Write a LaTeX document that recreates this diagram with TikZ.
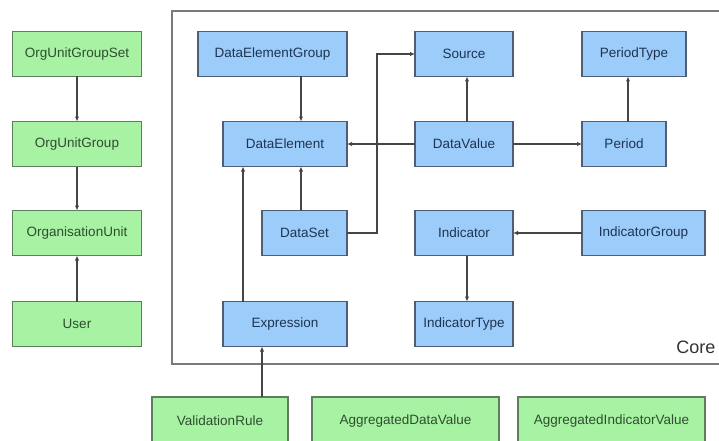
\documentclass[tikz,border=0pt]{standalone}
\usepackage{fontspec}
\setmainfont{Liberation Sans}
\usetikzlibrary{arrows.meta, positioning, calc}
\definecolor{grnfill}{HTML}{A8F2A4}
\definecolor{grnline}{HTML}{5E7E5E}
\definecolor{grntext}{HTML}{2E4E2E}
\definecolor{blufill}{HTML}{9CCCFA}
\definecolor{bluline}{HTML}{4E5E74}
\definecolor{blutext}{HTML}{1E3452}
\definecolor{arrline}{HTML}{454545}
\definecolor{coreline}{HTML}{7A7A7A}

\begin{document}
\begin{tikzpicture}[x=1pt, y=-1pt, font=\fontsize{13.5}{15}\selectfont, >={Latex[length=5pt,width=4.5pt]},
    box/.style={draw, line width=1.4pt, minimum height=45pt, inner sep=0pt, outer sep=0pt},
    grn/.style={box, fill=grnfill, draw=grnline, text=grntext},
    blu/.style={box, fill=blufill, draw=bluline, text=blutext},
    arr/.style={->, line width=1.6pt, draw=arrline}]
    \useasboundingbox (0,0) rectangle (719,441);
    \clip (0,0) rectangle (719,441);
    \fill[white] (0,0) rectangle (719,441);
    \draw[line width=1.6pt, draw=coreline] (172,11) rectangle (730,364);
    \node[anchor=east, font=\fontsize{18}{20}\selectfont, text=black!80] (core) at (719,347) {Core};

    \node[grn, minimum width=129pt] (ougs) at (77,54) {OrgUnitGroupSet};
    \node[grn, minimum width=129pt] (oug) at (77,144) {OrgUnitGroup};
    \node[grn, minimum width=129pt] (ou) at (77,233) {OrganisationUnit};
    \node[grn, minimum width=129pt] (user) at (77,324) {User};

    \node[blu, minimum width=149pt] (deg) at (272.5,54) {DataElementGroup};
    \node[blu, minimum width=124pt] (de) at (285,144) {DataElement};
    \node[blu, minimum width=85pt] (ds) at (304.5,233) {DataSet};
    \node[blu, minimum width=124pt] (expr) at (285,324) {Expression};

    \node[blu, minimum width=98pt] (src) at (464,54) {Source};
    \node[blu, minimum width=98pt] (dv) at (464,144) {DataValue};
    \node[blu, minimum width=98pt] (ind) at (464,233) {Indicator};
    \node[blu, minimum width=98pt] (it) at (464,324) {IndicatorType};

    \node[blu, minimum width=104pt] (pt) at (634,54) {PeriodType};
    \node[blu, minimum width=84pt] (per) at (624,144) {Period};
    \node[blu, minimum width=123pt] (ig) at (643.5,233) {IndicatorGroup};

    \node[grn, minimum width=136pt, minimum height=48pt] (vr) at (220,421) {ValidationRule};
    \node[grn, minimum width=187pt, minimum height=48pt] (adv) at (405.5,421) {AggregatedDataValue};
    \node[grn, minimum width=187pt, minimum height=48pt] (aiv) at (611.5,421) {AggregatedIndicatorValue};

    \coordinate (dex) at ([xshift=-3.5pt]ds.north);
    \coordinate (exx) at ([xshift=20pt]expr.north west);
    \coordinate (vrx) at ([xshift=-23pt]expr.south);
    \coordinate (ptx) at ([xshift=4pt]per.north);

    \draw[arr] (ougs) -- (oug);
    \draw[arr] (oug) -- (ou);
    \draw[arr] (user) -- (ou);
    \draw[arr] (deg.south -| dex) -- (de.north -| dex);
    \draw[arr] (dex) -- (de.south -| dex);
    \draw[arr] (exx) -- (de.south -| exx);
    \draw[arr] (vr.north -| vrx) -- (vrx);
    \draw[arr] (ds.east) -- ++(30,0) |- (src.west);
    \draw[arr] (dv) -- (de);
    \draw[arr] ([xshift=3pt]dv.north) -- ([xshift=3pt]src.south);
    \draw[arr] (dv) -- (per);
    \draw[arr] (ptx) -- (pt.south -| ptx);
    \draw[arr] (ig) -- (ind);
    \draw[arr] ([xshift=3pt]ind.south) -- ([xshift=3pt]it.north);
\end{tikzpicture}
\end{document}
